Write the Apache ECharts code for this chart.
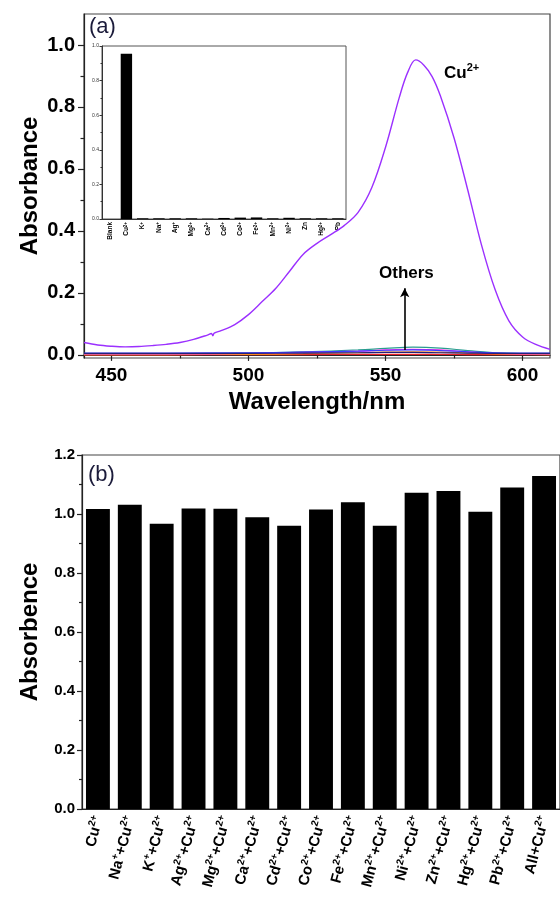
<!DOCTYPE html>
<html><head><meta charset="utf-8">
<script src="https://cdn.jsdelivr.net/npm/echarts@6/dist/echarts.min.js"></script>
<style>html,body{margin:0;padding:0;background:#fff}#c{width:560px;height:903px}</style>
</head><body><div id="c"></div>
<script>
// ---- Panel (a): UV-vis spectra ----
const cuWavelength = [440,445,450,455,460,465,470,475,480,485,486.5,487,487.5,490,495,500,505,510,515,520,525,530,535,540,545,550,555,558,561,564,567,570,575,580,585,590,595,600,605,610];
const cuAbsorbance = [0.040,0.032,0.028,0.026,0.027,0.030,0.034,0.040,0.050,0.064,0.069,0.062,0.070,0.078,0.098,0.130,0.172,0.215,0.270,0.325,0.360,0.388,0.418,0.460,0.540,0.670,0.830,0.910,0.952,0.935,0.898,0.836,0.700,0.532,0.355,0.210,0.110,0.058,0.033,0.018];
const otherWavelength = [440,470,500,520,540,550,560,570,580,590,610];
const otherNavy    = [0.005,0.005,0.005,0.006,0.007,0.008,0.008,0.007,0.006,0.005,0.005];
const otherRed     = [0.000,0.000,0.001,0.001,0.002,0.002,0.002,0.002,0.001,0.001,0.001];
const otherTeal    = [0.004,0.004,0.006,0.010,0.016,0.021,0.025,0.022,0.014,0.007,0.004];
const otherMagenta = [0.003,0.003,0.005,0.008,0.012,0.016,0.018,0.016,0.010,0.005,0.003];
const otherOrange  = [0.001,0.001,0.002,0.004,0.007,0.009,0.010,0.009,0.006,0.003,0.001];
const otherBlue    = [0.006,0.006,0.007,0.009,0.012,0.015,0.016,0.014,0.010,0.007,0.006];
const topYTicks = [0,0.2,0.4,0.6,0.8,1.0];
const topYMinor = [0.1,0.3,0.5,0.7,0.9];
const topXTicks = [450,500,550,600];
const topXMinor = [475,525,575];
const arrowX = 557, arrowFrom = 0.016, arrowTo = 0.215;

// inset
const insetCategories = ['Blank','Cu^{2+}','K^{+}','Na^{+}','Ag^{+}','Mg^{2+}','Ca^{2+}','Cd^{2+}','Co^{2+}','Fe^{2+}','Mn^{2+}','Ni^{2+}','Zn','Hg^{2+}','Pb'];
const insetValues = [0,0.955,0.004,0.004,0.004,0.004,0.002,0.006,0.008,0.009,0.004,0.007,0.004,0.004,0.004];

// ---- Panel (b): bars ----
const barCategories = ['Cu^{2+}','Na^{+}+Cu^{2+}','K^{+}+Cu^{2+}','Ag^{2+}+Cu^{2+}','Mg^{2+}+Cu^{2+}','Ca^{2+}+Cu^{2+}','Cd^{2+}+Cu^{2+}','Co^{2+}+Cu^{2+}','Fe^{2+}+Cu^{2+}','Mn^{2+}+Cu^{2+}','Ni^{2+}+Cu^{2+}','Zn^{2+}+Cu^{2+}','Hg^{2+}+Cu^{2+}','Pb^{2+}+Cu^{2+}','All+Cu^{2+}'];
const barValues = [1.017,1.031,0.967,1.019,1.018,0.989,0.960,1.015,1.040,0.960,1.072,1.078,1.008,1.090,1.129];

function toRich(s){ return s.replace(/\^\{([^}]*)\}/g, (m,p)=>'{sup|'+p+'}').replace(/(^|\})([^{]+)/g,(m,a,b)=>a+'{n|'+b+'}'); }
const zip = (xs, ys) => xs.map((x,i)=>[x, ys[i]]);

const FONT = 'Liberation Sans, Arial, sans-serif';
const chart = echarts.init(document.getElementById('c'), null, {renderer:'canvas'});
const axisLineStyle = {color:'#222', width:1.2};

function otherSeries(data, color){
  return {type:'line', xAxisIndex:0, yAxisIndex:0, data: zip(otherWavelength, data), showSymbol:false, smooth:0.4,
    lineStyle:{color, width:1.2}, silent:true, z:3};
}

chart.setOption({
  animation:false,
  backgroundColor:'#fff',
  textStyle:{fontFamily:FONT},
  grid:[
    {left:84, top:14, width:466, height:344, show:true, borderColor:'#444', borderWidth:1.2, backgroundColor:'transparent'},
    {left:102, top:46, width:244, height:173, show:true, borderColor:'#555', borderWidth:1, backgroundColor:'transparent'},
    {left:82, top:455, width:479, height:354, show:true, borderColor:'#444', borderWidth:1.2, backgroundColor:'transparent'}
  ],
  xAxis:[
    {type:'value', gridIndex:0, min:440, max:610, position:'bottom',
      axisLine:{lineStyle:axisLineStyle}, splitLine:{show:false},
      axisTick:{customValues:topXTicks, length:6, lineStyle:{color:'#222', width:1.2}},
      axisLabel:{customValues:topXTicks, fontSize:19, fontWeight:'bold', color:'#000', margin:8},
      name:'Wavelength/nm', nameLocation:'middle', nameGap:32, nameTextStyle:{fontSize:24, fontWeight:'bold', color:'#000'}},
    {type:'value', gridIndex:0, min:440, max:610, position:'bottom',
      axisLine:{show:false}, splitLine:{show:false}, axisLabel:{show:false},
      axisTick:{customValues:topXMinor, length:3.5, lineStyle:{color:'#222', width:1.2}}},
    {type:'category', gridIndex:1, data:insetCategories, position:'bottom',
      axisLine:{lineStyle:{color:'#333', width:1}},
      axisTick:{alignWithLabel:true, length:3, lineStyle:{color:'#333'}},
      axisLabel:{rotate:90, interval:0, margin:3, formatter:v=>toRich(v),
        rich:{n:{fontSize:6.5, fontWeight:'bold', color:'#000', lineHeight:7, verticalAlign:'bottom'},
              sup:{fontSize:4.5, fontWeight:'bold', color:'#000', lineHeight:7, verticalAlign:'top'}}}},
    {type:'category', gridIndex:2, data:barCategories, position:'bottom',
      axisLine:{lineStyle:axisLineStyle},
      axisTick:{alignWithLabel:true, length:5, lineStyle:{color:'#222', width:1.2}},
      axisLabel:{rotate:75, interval:0, margin:7, formatter:v=>toRich(v),
        rich:{n:{fontSize:15, fontWeight:'bold', color:'#000', lineHeight:17, verticalAlign:'bottom'},
              sup:{fontSize:10, fontWeight:'bold', color:'#000', lineHeight:17, verticalAlign:'top'}}}},
    {type:'category', gridIndex:2, data:barCategories, position:'bottom',
      axisLine:{show:false}, axisLabel:{show:false},
      axisTick:{alignWithLabel:false, length:3, lineStyle:{color:'#222', width:1.2}}}
  ],
  yAxis:[
    {type:'value', gridIndex:0, min:-0.01, max:1.1, position:'left',
      axisLine:{show:true, lineStyle:axisLineStyle}, splitLine:{show:false},
      axisTick:{show:true, customValues:topYTicks, length:6, lineStyle:{color:'#222', width:1.2}},
      axisLabel:{customValues:topYTicks, formatter:v=>v.toFixed(1), fontSize:20, fontWeight:'bold', color:'#000', margin:9},
      name:'Absorbance', nameLocation:'middle', nameGap:42, nameMoveOverlap:false, nameTextStyle:{fontSize:24, fontWeight:'bold', color:'#000'}},
    {type:'value', gridIndex:0, min:-0.01, max:1.1, position:'left',
      axisLine:{show:false}, splitLine:{show:false}, axisLabel:{show:false},
      axisTick:{show:true, customValues:topYMinor, length:3.5, lineStyle:{color:'#222', width:1.2}}},
    {type:'value', gridIndex:1, min:0, max:1.0, interval:0.2, position:'left',
      axisLine:{show:true, lineStyle:{color:'#333', width:1}}, splitLine:{show:false},
      axisTick:{show:true, length:2.5, lineStyle:{color:'#333'}},
      minorTick:{show:true, splitNumber:2, length:1.5, lineStyle:{color:'#333'}},
      axisLabel:{formatter:v=>v.toFixed(1), fontSize:5, color:'#333', margin:3}},
    {type:'value', gridIndex:2, min:0, max:1.2, interval:0.2, position:'left',
      axisLine:{show:true, lineStyle:axisLineStyle}, splitLine:{show:false},
      axisTick:{show:true, length:5, lineStyle:{color:'#222', width:1.2}},
      minorTick:{show:true, splitNumber:2, length:3, lineStyle:{color:'#222', width:1.2}},
      axisLabel:{formatter:v=>v.toFixed(1), fontSize:15, fontWeight:'bold', color:'#000', margin:7},
      name:'Absorbence', nameLocation:'middle', nameGap:40, nameMoveOverlap:false, nameTextStyle:{fontSize:24, fontWeight:'bold', color:'#000'}}
  ],
  series:[
    otherSeries(otherRed, '#e8202a'),
    otherSeries(otherOrange, '#ff8c1a'),
    otherSeries(otherTeal, '#2a9d8f'),
    otherSeries(otherMagenta, '#ff22ee'),
    otherSeries(otherBlue, '#3b3bff'),
    otherSeries(otherNavy, '#23237a'),
    {type:'line', xAxisIndex:0, yAxisIndex:0, data:zip(cuWavelength, cuAbsorbance), showSymbol:false, smooth:0.35,
      lineStyle:{color:'#9b30ff', width:1.4}, silent:true, z:4,
      markLine:{silent:true, symbol:['none','arrow'], symbolSize:[7,9], label:{show:false},
        lineStyle:{color:'#000', width:1.6, type:'solid'},
        data:[[{coord:[arrowX, arrowFrom]},{coord:[arrowX, arrowTo]}]]}},
    {type:'bar', xAxisIndex:2, yAxisIndex:2, data:insetValues, barWidth:'70%', itemStyle:{color:'#000'}, silent:true},
    {type:'bar', xAxisIndex:3, yAxisIndex:3, data:barValues, barWidth:'75%', itemStyle:{color:'#000'}, silent:true}
  ],
  graphic:[
    {type:'text', left:89, top:16, style:{text:'(a)', fontSize:22, fontFamily:FONT, fill:'#1b1b3a'}},
    {type:'text', left:88, top:464, style:{text:'(b)', fontSize:22, fontFamily:FONT, fill:'#1b1b3a'}},
    {type:'text', left:444, top:62, style:{text:'{n|Cu}{sup|2+}', rich:{
        n:{fontSize:17, fontWeight:'bold', fontFamily:FONT, fill:'#000', lineHeight:20, verticalAlign:'bottom'},
        sup:{fontSize:11, fontWeight:'bold', fontFamily:FONT, fill:'#000', lineHeight:20, verticalAlign:'top'}}}},
    {type:'text', left:379, top:265, style:{text:'Others', fontSize:17, fontWeight:'bold', fontFamily:FONT, fill:'#000'}}
  ]
});
</script>
</body></html>
